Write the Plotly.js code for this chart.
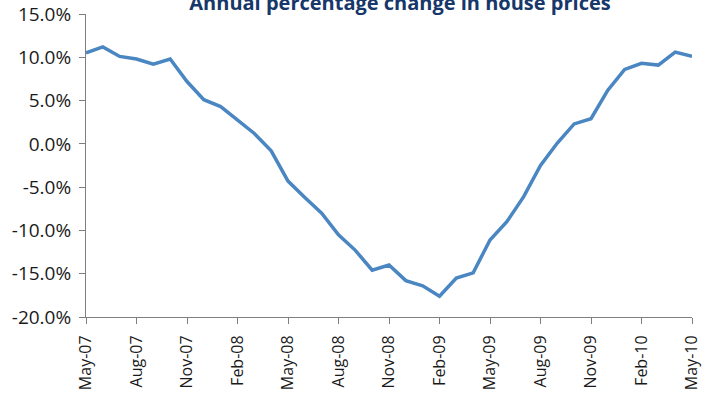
<!DOCTYPE html>
<html><head><meta charset="utf-8">
<script src="https://cdn.plot.ly/plotly-3.0.1.min.js"></script>
<style>html,body{margin:0;padding:0;background:#fff;}#chart{width:712px;height:401px;}</style>
</head><body><div id="chart"></div>
<script>
const months = ["May-07","Jun-07","Jul-07","Aug-07","Sep-07","Oct-07","Nov-07","Dec-07","Jan-08","Feb-08","Mar-08","Apr-08",
"May-08","Jun-08","Jul-08","Aug-08","Sep-08","Oct-08","Nov-08","Dec-08","Jan-09","Feb-09","Mar-09","Apr-09",
"May-09","Jun-09","Jul-09","Aug-09","Sep-09","Oct-09","Nov-09","Dec-09","Jan-10","Feb-10","Mar-10","Apr-10","May-10"];
const annualChange = [10.5,11.2,10.1,9.8,9.2,9.8,7.2,5.1,4.3,2.8,1.2,-0.8,
-4.3,-6.2,-8.0,-10.5,-12.3,-14.6,-14.0,-15.8,-16.4,-17.6,-15.5,-14.9,
-11.1,-9.0,-6.1,-2.5,0.1,2.3,2.9,6.2,8.6,9.3,9.1,10.6,10.1];
const tickMonths = ["May-07","Aug-07","Nov-07","Feb-08","May-08","Aug-08","Nov-08","Feb-09","May-09","Aug-09","Nov-09","Feb-10","May-10"];
const yTicks = [-20,-15,-10,-5,0,5,10,15];
const yTickText = ["-20.0%","-15.0%","-10.0%","-5.0%","0.0%","5.0%","10.0%","15.0%"];
const chartTitle = "Annual percentage change in house prices";

const trace = {
  x: months, y: annualChange, type: 'scatter', mode: 'lines',
  line: {color: '#4A86C1', width: 3.5}, hoverinfo: 'skip'
};
const layout = {
  width: 712, height: 401,
  margin: {l: 86, r: 20, t: 14, b: 84},
  paper_bgcolor: '#fff', plot_bgcolor: '#fff',
  font: {family: '"Open Sans", sans-serif', color: '#1a1a1a', size: 17},
  title: {text: '<b>' + chartTitle + '</b>', font: {size: 20, color: '#17376A', family: '"Open Sans", sans-serif'},
          x: 400/712, xanchor: 'center', xref: 'container', yref: 'container', y: 1 - 10/401, yanchor: 'bottom'},
  showlegend: false,
  xaxis: {
    type: 'category', categoryarray: months, range: [0, months.length - 1],
    tickmode: 'array', tickvals: tickMonths, ticktext: tickMonths,
    tickangle: -90, ticks: 'outside', ticklen: 6, tickcolor: '#7F7F7F', tickwidth: 1,
    showline: true, linecolor: '#7F7F7F', linewidth: 1, showgrid: false, zeroline: false,
    tickfont: {size: 16, color: '#1a1a1a'}, ticklabelstandoff: 5
  },
  yaxis: {
    range: [-20, 15], tickmode: 'array', tickvals: yTicks, ticktext: yTickText,
    ticks: 'outside', ticklen: 6, tickcolor: '#7F7F7F', tickwidth: 1,
    showline: true, linecolor: '#7F7F7F', linewidth: 1, showgrid: false, zeroline: false,
    tickfont: {size: 19, color: '#1a1a1a'}, ticklabelstandoff: 4
  }
};
Plotly.newPlot('chart', [trace], layout, {displayModeBar: false, staticPlot: true});
</script></body></html>
